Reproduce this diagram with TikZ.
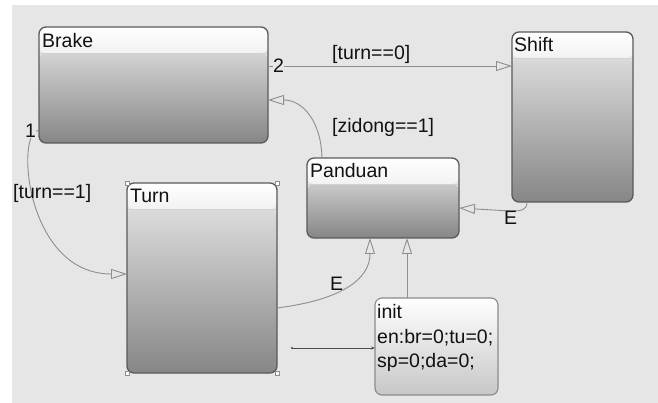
\documentclass[tikz,border=0pt]{standalone}
\usepackage{fontspec}
\setmainfont{Liberation Sans}
\usetikzlibrary{arrows.meta}

\definecolor{canvas}{HTML}{E6E6E6}
\definecolor{frame}{HTML}{5A5A5A}
\definecolor{bodytop}{HTML}{E9E9E9}
\definecolor{bodybot}{HTML}{868686}
\definecolor{headtop}{HTML}{FFFFFF}
\definecolor{headbot}{HTML}{F2F2F2}
\definecolor{rule}{HTML}{D2D2D2}
\definecolor{wire}{HTML}{8E8E8E}
\definecolor{ink}{HTML}{111111}

\tikzset{
  chartstate/.style={
    anchor=north west, draw=frame, line width=1.3pt, rounded corners=7pt,
    inner sep=0pt, outer sep=0pt,
    path picture={
      \shade[top color=bodytop, bottom color=bodybot]
        ([yshift=-26pt]path picture bounding box.north west)
        rectangle (path picture bounding box.south east);
      \shade[top color=headtop, bottom color=headbot]
        (path picture bounding box.north west)
        rectangle ([yshift=-26pt]path picture bounding box.north east);
      \draw[rule, line width=0.8pt]
        ([yshift=-26pt]path picture bounding box.north west)
        -- ([yshift=-26pt]path picture bounding box.north east);
    }},
  junctionbox/.style={
    anchor=north west, draw=frame!70, line width=1.1pt, rounded corners=7pt,
    inner sep=0pt, outer sep=0pt,
    top color=white, bottom color=black!22},
  txt/.style={anchor=base west, inner sep=0pt, text=ink,
    font=\fontsize{19.5}{24}\selectfont},
  tag/.style={txt, fill=canvas},
  trans/.style={draw=wire, line width=0.9pt,
    -{Triangle[open, length=16pt, width=10pt, line width=0.9pt]}},
  handle/.style={draw=black!45, fill=white, line width=0.6pt,
    minimum size=4pt, inner sep=0pt},
}

\begin{document}
\begin{tikzpicture}[x=1pt, y=-1pt]
  % page and canvas
  \fill[white] (0,0) rectangle (658,403);
  \fill[canvas] (12,5) rectangle (658,403);
  \useasboundingbox (0,0) rectangle (658,403);

  % states
  \node[chartstate, minimum width=229pt, minimum height=116pt] (brake) at (39,27) {};
  \node[chartstate, minimum width=121pt, minimum height=170pt] (shift) at (512,32) {};
  \node[chartstate, minimum width=152pt, minimum height=80pt] (panduan) at (307,158) {};
  \node[chartstate, minimum width=150pt, minimum height=190pt] (turn) at (127,183) {};
  \node[junctionbox, minimum width=123pt, minimum height=97pt] (init) at (375,298) {};

  % state titles
  \node[txt] (brake-title) at (42,48) {Brake};
  \node[txt] (shift-title) at (514,52) {Shift};
  \node[txt] (panduan-title) at (310,178) {Panduan};
  \node[txt] (turn-title) at (130,203) {Turn};
  \node[txt] (init-l1) at (377,318) {init};
  \node[txt] (init-l2) at (377,343) {en:br=0;tu=0;};
  \node[txt] (init-l3) at (377,367) {sp=0;da=0;};

  % selection handles on Turn
  \node[handle] (h1) at (turn.north west) {};
  \node[handle] (h2) at (turn.north east) {};
  \node[handle] (h3) at (turn.south west) {};
  \node[handle] (h4) at (turn.south east) {};

  % transitions
  \draw[trans] ([yshift=-39pt]brake.north east) -- ([yshift=-34pt]shift.north west);
  \node[tag] (o2) at (273,73) {2};
  \node[txt] (g0) at (332,60) {[turn==0]};

  \draw[trans] ([xshift=15pt]panduan.north west)
    .. controls (321,120) and (302,100) .. ([yshift=-73pt]brake.north east);
  \node[txt] (gz) at (332,133) {[zidong==1]};

  \draw[trans] ([yshift=-103pt]brake.north west)
    .. controls (15,130) and (25,274) .. ([yshift=-91pt]turn.north west);
  \node[tag] (o1) at (25,138) {1};
  \node[txt] (g1) at (13,199) {[turn==1]};

  \coordinate (sbend) at (510,211);
  \draw[trans] ([xshift=15pt]shift.south west)
    .. controls (527,211) and (520,211) .. (sbend)
    -- ([yshift=-50pt]panduan.north east);
  \node[txt] (e1) at (504,225) {E};

  \draw[trans] ([yshift=-125pt]turn.north east)
    .. controls (340,300) and (370,280) .. ([xshift=63pt]panduan.south west);
  \node[txt] (e2) at (330,290) {E};

  \draw[trans] ([xshift=32pt]init.north west) -- ([xshift=100pt]panduan.south west);

  % default transition
  \coordinate (dflt) at (292,348);
  \fill[black!70] (dflt) circle (1.2pt);
  \draw[black!70, line width=0.7pt, -{Stealth[length=4pt, width=3pt]}]
    (dflt) -- ([yshift=-50pt]init.north west);
\end{tikzpicture}
\end{document}
